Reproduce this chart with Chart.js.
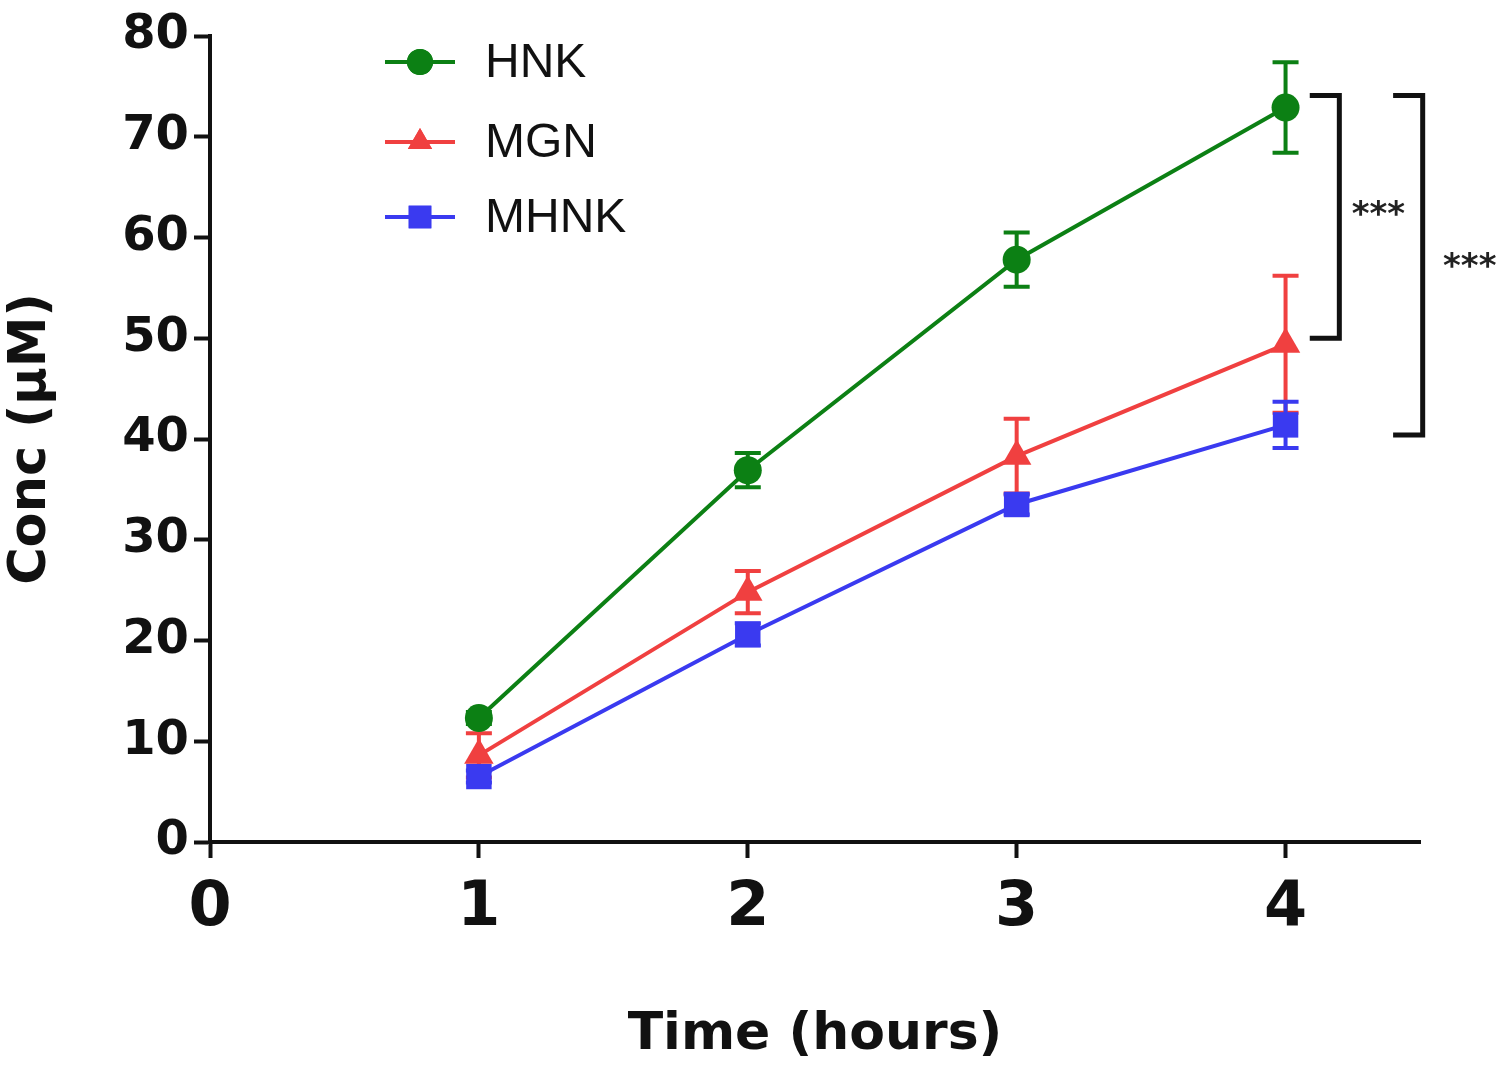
<!DOCTYPE html>
<html>
<head>
<meta charset="utf-8">
<script src="https://cdn.jsdelivr.net/npm/chart.js@4/dist/chart.umd.min.js"></script>
<style>
  html, body { margin: 0; padding: 0; background: #fff; }
  #wrap { width: 1500px; height: 1073px; }
</style>
</head>
<body>
<div id="wrap"><canvas id="concChart" width="1500" height="1073"></canvas></div>
<script>
// 数据
const timePoints = [1, 2, 3, 4];
const xTickValues = [0, 1, 2, 3, 4];
const seriesNames = ['HNK', 'MGN', 'MHNK'];
const hnkValues = [12.3, 36.9, 57.8, 72.9];
const hnkErrors = [0.6, 1.7, 2.7, 4.5];
const mgnValues = [8.6, 24.8, 38.3, 49.4];
const mgnErrors = [2.2, 2.1, 3.7, 6.8];
const mhnkValues = [6.5, 20.6, 33.5, 41.4];
const mhnkErrors = [0.6, 1.1, 1.0, 2.3];

const colors = ['rgb(12,128,20)', 'rgb(240,64,64)', 'rgb(58,58,240)'];
const markers = ['circle', 'triangle', 'rect'];
const markerSizes = [14, 17, 18];
const allValues = [hnkValues, mgnValues, mhnkValues];
const allErrors = [hnkErrors, mgnErrors, mhnkErrors];

const toPoints = vals => vals.map((v, i) => ({ x: timePoints[i], y: v }));

// 误差线
const errorBarPlugin = {
    id: 'errorBars',
    beforeDatasetsDraw(chart) {
        const { ctx, scales: { x, y } } = chart;
        chart.data.datasets.forEach((ds, i) => {
            const errs = allErrors[i];
            ctx.save();
            ctx.strokeStyle = ds.borderColor;
            ctx.lineWidth = 4;
            ds.data.forEach((p, j) => {
                const px = x.getPixelForValue(p.x);
                const top = y.getPixelForValue(p.y + errs[j]);
                const bot = y.getPixelForValue(p.y - errs[j]);
                ctx.beginPath();
                ctx.moveTo(px, top); ctx.lineTo(px, bot);
                ctx.moveTo(px - 13, top); ctx.lineTo(px + 13, top);
                ctx.moveTo(px - 13, bot); ctx.lineTo(px + 13, bot);
                ctx.stroke();
            });
            ctx.restore();
        });
    }
};

// 图例 + 显著性标记
const annotatePlugin = {
    id: 'annotate',
    afterDraw(chart) {
        const { ctx, scales: { x, y } } = chart;
        ctx.save();
        // legend
        const legendY = [62, 142, 217];
        const legendSizes = [13, 14, 16];
        chart.data.datasets.forEach((ds, i) => {
            const ly = legendY[i];
            ctx.strokeStyle = ds.borderColor;
            ctx.lineWidth = 4;
            ctx.beginPath();
            ctx.moveTo(385, ly); ctx.lineTo(455, ly);
            ctx.stroke();
            ctx.fillStyle = ds.borderColor;
            Chart.helpers.drawPoint(ctx, {
                pointStyle: markers[i], radius: legendSizes[i], rotation: 0, borderWidth: 0
            }, 420, ly);
            ctx.fill();
            ctx.fillStyle = '#111';
            ctx.font = '48px "Liberation Sans", Arial, sans-serif';
            ctx.textAlign = 'left';
            ctx.textBaseline = 'middle';
            ctx.fillText(seriesNames[i], 485, ly + 2);
        });

        // brackets
        ctx.strokeStyle = '#111';
        ctx.lineWidth = 5;
        const brackets = [
            { xv: 4.2, xl: 4.09, top: 74.1, bottom: 50.0, tx: 4.345, ty: 62.7 },
            { xv: 4.51, xl: 4.4, top: 74.1, bottom: 40.4, tx: 4.685, ty: 57.6 }
        ];
        brackets.forEach(b => {
            const vx = x.getPixelForValue(b.xv);
            const lx = x.getPixelForValue(b.xl);
            const t = y.getPixelForValue(b.top);
            const bt = y.getPixelForValue(b.bottom);
            ctx.beginPath();
            ctx.moveTo(lx, t); ctx.lineTo(vx, t); ctx.lineTo(vx, bt); ctx.lineTo(lx, bt);
            ctx.stroke();
            ctx.fillStyle = '#222';
            ctx.font = 'bold 34px "DejaVu Sans", sans-serif';
            ctx.textAlign = 'center';
            ctx.textBaseline = 'middle';
            ctx.fillText('***', x.getPixelForValue(b.tx), y.getPixelForValue(b.ty) + 6);
        });
        ctx.restore();
    }
};

const ctx = document.getElementById('concChart').getContext('2d');
const concChart = new Chart(ctx, {
    type: 'line',
    data: {
        datasets: allValues.map((vals, i) => ({
            label: seriesNames[i],
            data: toPoints(vals),
            borderColor: colors[i],
            backgroundColor: colors[i],
            borderWidth: 4,
            pointStyle: markers[i],
            pointRadius: markerSizes[i],
            pointHoverRadius: markerSizes[i],
            pointBorderWidth: 0,
            tension: 0,
            clip: false
        }))
    },
    options: {
        responsive: false,
        animation: false,
        layout: { padding: { left: 0, top: 36, right: 80, bottom: 0 } },
        plugins: {
            legend: { display: false },
            tooltip: { enabled: false }
        },
        scales: {
            x: {
                type: 'linear',
                min: 0,
                max: 4.5,
                afterBuildTicks: scale => { scale.ticks = xTickValues.map(v => ({ value: v })); },
                afterFit: scale => { scale.height = 231; },
                grid: { drawOnChartArea: false, drawTicks: true, tickLength: 16, tickWidth: 4, color: '#111' },
                border: { display: true, width: 4, color: '#111' },
                ticks: {
                    color: '#111',
                    padding: 14,
                    maxRotation: 0,
                    font: { family: '"DejaVu Sans", Verdana, sans-serif', size: 62, weight: 'bold' }
                },
                title: {
                    display: true,
                    text: 'Time (hours)',
                    color: '#111',
                    padding: { top: 0, bottom: 6 },
                    font: { family: '"DejaVu Sans", Verdana, sans-serif', size: 52, weight: 'bold' }
                }
            },
            y: {
                min: 0,
                max: 80,
                afterFit: scale => { scale.width = 210; },
                grid: { drawOnChartArea: false, drawTicks: true, tickLength: 16, tickWidth: 4, color: '#111' },
                border: { display: true, width: 4, color: '#111' },
                ticks: {
                    stepSize: 10,
                    color: '#111',
                    padding: 5,
                    font: { family: '"DejaVu Sans", Verdana, sans-serif', size: 48, weight: 'bold' }
                },
                title: {
                    display: true,
                    text: 'Conc (μM)',
                    color: '#111',
                    padding: { top: 1, bottom: 0 },
                    font: { family: '"DejaVu Sans", Verdana, sans-serif', size: 51, weight: 'bold' }
                }
            }
        }
    },
    plugins: [errorBarPlugin, annotatePlugin]
});
</script>
</body>
</html>
